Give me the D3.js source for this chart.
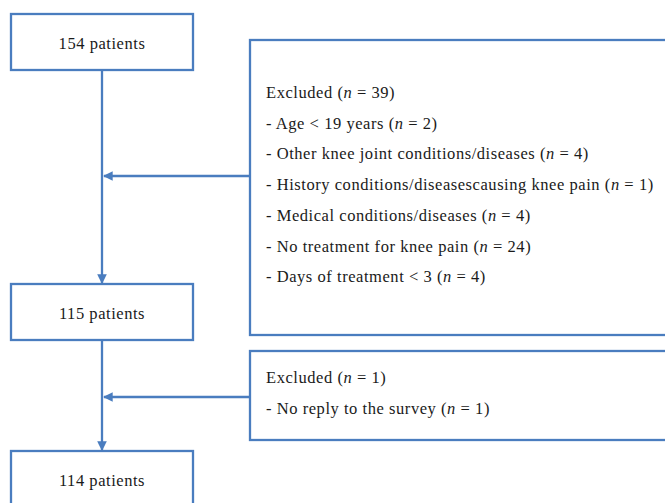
<script src="https://cdn.jsdelivr.net/npm/d3@7"></script>
<style>
  body { margin: 0; background: #fff; }
  text { font-family: "Liberation Serif"; letter-spacing: 0.55px; }
</style>
<svg id="flow"></svg>
<script>
// patient counts at each stage
const stageCounts = [154, 115, 114];
// exclusion boxes, one per gap between stages
const excludedTotals = [39, 1];
const excludedReasons = [
  ["Age < 19 years", "Other knee joint conditions/diseases", "History conditions/diseasescausing knee pain",
   "Medical conditions/diseases", "No treatment for knee pain", "Days of treatment < 3"],
  ["No reply to the survey"]
];
const excludedCounts = [[2, 4, 1, 4, 24, 4], [1]];

const width = 665, height = 503;
const blue = "#4a7dbf";
const fontSize = 16.5;
const svg = d3.select("#flow").attr("width", width).attr("height", height);

svg.append("defs").append("marker")
  .attr("id", "arr").attr("viewBox", "0 0 10 10")
  .attr("refX", 9).attr("refY", 5)
  .attr("markerWidth", 4.2).attr("markerHeight", 4.2)
  .attr("orient", "auto-start-reverse")
  .append("path").attr("d", "M0,0L10,5L0,10z").attr("fill", blue);

// layout
const y = d3.scaleOrdinal().domain([0, 1, 2]).range([14, 284, 451]);
const boxW = 182, boxH = 56, boxX = 11;
const midX = boxX + boxW / 2;
const exX = 250, exW = 430;
const exBoxes = [{top: 40, bottom: 335, arrowY: 176, textY: 98}, {top: 351, bottom: 440, arrowY: 397, textY: 383}];
const lineGap = 30.7;

// label with italic n
function writeLabel(sel, label, n) {
  sel.append("tspan").text(label + " (");
  sel.append("tspan").style("font-style", "italic").text("n");
  sel.append("tspan").text(" = " + n + ")");
}

// stage boxes
const stage = svg.selectAll("g.stage").data(stageCounts).join("g").attr("class", "stage");
stage.append("rect")
  .attr("x", boxX).attr("y", (d, i) => y(i))
  .attr("width", boxW).attr("height", boxH)
  .attr("fill", "#fff").attr("stroke", blue).attr("stroke-width", 2.3);
stage.append("text")
  .attr("x", midX).attr("y", (d, i) => y(i) + boxH / 2 + 6.5)
  .attr("text-anchor", "middle")
  .style("font-size", fontSize + "px").attr("fill", "#1a1a1a")
  .text(d => d + " patients");

// vertical arrows between stages
d3.range(stageCounts.length - 1).forEach(i => {
  svg.append("line")
    .attr("x1", midX).attr("x2", midX)
    .attr("y1", y(i) + boxH).attr("y2", y(i + 1) - 1)
    .attr("stroke", blue).attr("stroke-width", 2.3)
    .attr("marker-end", "url(#arr)");
});

// exclusion boxes
excludedTotals.forEach((tot, i) => {
  const b = exBoxes[i];
  svg.append("rect")
    .attr("x", exX).attr("y", b.top).attr("width", exW).attr("height", b.bottom - b.top)
    .attr("fill", "#fff").attr("stroke", blue).attr("stroke-width", 2.3);
  svg.append("line")
    .attr("x1", exX).attr("x2", midX + 2)
    .attr("y1", b.arrowY).attr("y2", b.arrowY)
    .attr("stroke", blue).attr("stroke-width", 2.3)
    .attr("marker-end", "url(#arr)");

  const t = svg.append("g").style("font-size", fontSize + "px").attr("fill", "#1a1a1a");
  writeLabel(t.append("text").attr("x", 266).attr("y", b.textY), "Excluded", tot);
  excludedReasons[i].forEach((r, j) => {
    writeLabel(t.append("text").attr("x", 266).attr("y", b.textY + (j + 1) * lineGap), "- " + r, excludedCounts[i][j]);
  });
});
</script>
